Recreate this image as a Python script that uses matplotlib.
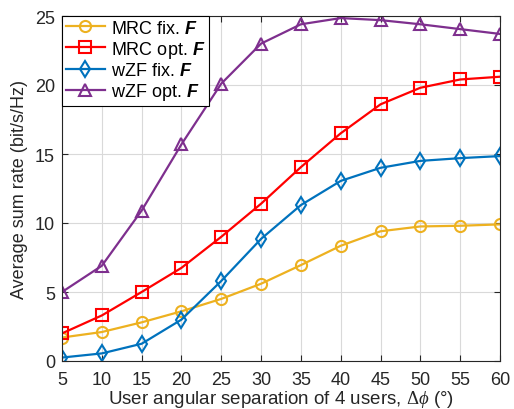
import numpy as np
import matplotlib
matplotlib.use('Agg')
import matplotlib.pyplot as plt
import matplotlib.ticker as ticker

plt.rcParams['font.family'] = ['Liberation Sans', 'DejaVu Sans']
plt.rcParams['mathtext.fontset'] = 'custom'
plt.rcParams['mathtext.rm'] = 'Liberation Serif'
plt.rcParams['mathtext.it'] = 'Liberation Serif:italic'
plt.rcParams['mathtext.bf'] = 'Liberation Sans:bold'
plt.rcParams['mathtext.bfit'] = 'Liberation Sans:bold:italic'

# angular separation (degrees)
sep = [5, 10, 15, 20, 25, 30, 35, 40, 45, 50, 55, 60]

# average sum rate (bit/s/Hz)
mrc_fix = [1.7, 2.1, 2.8, 3.6, 4.5, 5.6, 6.95, 8.35, 9.4, 9.75, 9.8, 9.9]
mrc_opt = [2.0, 3.3, 5.0, 6.75, 9.0, 11.4, 14.05, 16.5, 18.6, 19.8, 20.4, 20.6]
wzf_fix = [0.25, 0.55, 1.25, 3.0, 5.8, 8.85, 11.3, 13.05, 14.0, 14.5, 14.7, 14.85]
wzf_opt = [5.0, 6.9, 10.9, 15.7, 20.1, 23.0, 24.4, 24.85, 24.7, 24.4, 24.05, 23.7]

labels = [r'MRC fix. $\mathbfit{F}$', r'MRC opt. $\mathbfit{F}$',
          r'wZF fix. $\mathbfit{F}$', r'wZF opt. $\mathbfit{F}$']
colors = [(0.929, 0.694, 0.125), (1, 0, 0), (0, 0.447, 0.741), (0.494, 0.184, 0.556)]
markers = ['o', 's', 'd', '^']
dark = (0.15, 0.15, 0.15)

fig = plt.figure(figsize=(5.14, 4.10), dpi=100)
fig.patch.set_facecolor('white')
ax = fig.add_axes([62/514, 48/410, 438/514, 345/410])

for y, lab, c, m in zip([mrc_fix, mrc_opt, wzf_fix, wzf_opt], labels, colors, markers):
  ax.plot(sep, y, color=c, marker=m, markersize=8, markerfacecolor='none',
          markeredgewidth=1.5, linewidth=1.6, label=lab)

ax.set_xlim(5, 60)
ax.set_ylim(0, 25)
ax.xaxis.set_major_locator(ticker.MultipleLocator(5))
ax.yaxis.set_major_locator(ticker.MultipleLocator(5))
ax.tick_params(direction='in', top=True, right=True, labelsize=13,
               color=dark, labelcolor=dark, length=4)
ax.tick_params(axis='x', pad=7)
ax.tick_params(axis='y', pad=5)
for s in ax.spines.values():
  s.set_color(dark)
  s.set_linewidth(0.8)
ax.grid(color=(0.85, 0.85, 0.85), linewidth=0.8)
ax.set_axisbelow(True)

ax.set_xlabel(r'User angular separation of 4 users, $\Delta\phi$ (°)',
              fontsize=13.5, color=dark, labelpad=0)
ax.set_ylabel('Average sum rate (bit/s/Hz)', fontsize=13, color=dark, labelpad=5)

leg = ax.legend(loc='upper left', fontsize=13, fancybox=False, framealpha=1,
                edgecolor='black', borderaxespad=0, handlelength=2.2,
                handletextpad=0.3, borderpad=0.2, labelspacing=0.12)
leg.get_frame().set_linewidth(0.8)

fig.savefig('out.png', dpi=100)
